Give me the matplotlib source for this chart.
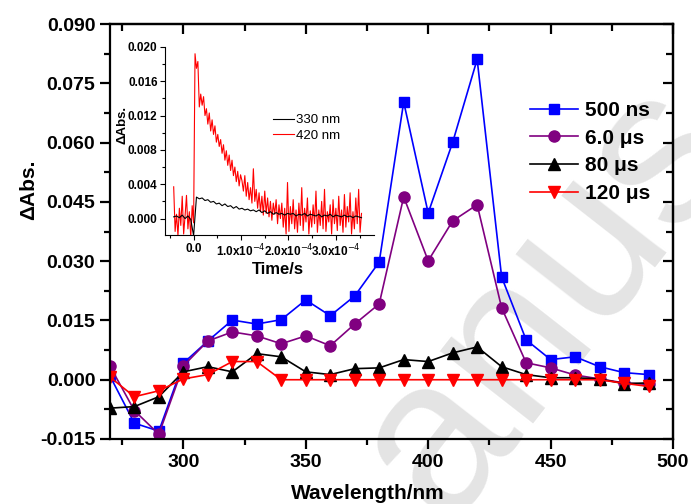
import matplotlib
matplotlib.use('Agg')
import matplotlib.pyplot as plt
import numpy as np
from matplotlib.ticker import MultipleLocator, FixedLocator, FixedFormatter

plt.rcParams['font.family'] = ['Liberation Sans', 'DejaVu Sans']

# main spectra
wavelength = [270, 280, 290, 300, 310, 320, 330, 340, 350, 360, 370, 380,
              390, 400, 410, 420, 430, 440, 450, 460, 470, 480, 490]
abs_500ns = [0.0010, -0.0110, -0.0130, 0.0042, 0.0098, 0.0151, 0.0141, 0.0152, 0.0202, 0.0162, 0.0212, 0.0298,
             0.0703, 0.0422, 0.0601, 0.0811, 0.0260, 0.0101, 0.0051, 0.0058, 0.0033, 0.0018, 0.0013]
abs_6us = [0.0035, -0.0078, -0.0138, 0.0035, 0.0098, 0.0121, 0.0111, 0.0091, 0.0111, 0.0086, 0.0141, 0.0192,
           0.0463, 0.0301, 0.0402, 0.0443, 0.0182, 0.0043, 0.0030, 0.0012, 0.0002, -0.0008, -0.0012]
abs_80us = [-0.0072, -0.0068, -0.0043, 0.0020, 0.0033, 0.0020, 0.0066, 0.0058, 0.0020, 0.0013, 0.0028, 0.0030,
            0.0051, 0.0046, 0.0068, 0.0083, 0.0033, 0.0013, 0.0005, 0.0005, 0.0002, -0.0010, -0.0008]
abs_120us = [0.0007, -0.0043, -0.0028, 0.0002, 0.0013, 0.0046, 0.0046, 0.0, 0.0, 0.0, 0.0, 0.0,
             0.0, 0.0, 0.0, 0.0, 0.0, 0.0, 0.0, 0.0, 0.0, -0.0009, -0.0017]
labels = ['500 ns', '6.0 μs', '80 μs', '120 μs']

# inset kinetic traces (values in 1e-3, time in 1e-4 s)
t0_red, dt_red = -0.42, 0.03
trace_420 = [3.7, -1.5, 0.5, -2.0, 1.2, -0.8, 2.6, -1.8, 0.3, 2.7, -1.2, 0.8, -2.2, 1.5, -0.5,
             19.2, 17.5, 18.3, 13.0, 14.5, 13.2, 14.2, 12.0, 12.8, 11.0, 12.3, 10.2, 11.5, 9.8, 10.8,
             8.9, 9.8, 8.4, 9.2, 7.6, 8.6, 6.8, 7.9, 6.2, 7.4, 5.6, 6.8, 5.0, 6.0, 4.3, 5.5, 3.8, 5.1,
             4.4, 3.2, 5.0, 2.6, 4.2, 2.2, 3.6, 1.8, 5.8, 2.0, 3.4, 1.2, 3.0, 0.8, 2.6, 0.4, 3.2, 0.6,
             2.4, 0.2, 2.0, -0.2, 1.8, 0.5, 2.2, -0.6, 1.6, 0.0, 1.8, -1.0, 1.2, -1.8, 4.2, -1.5, 1.4,
             -0.6, 2.2, -1.2, 1.0, -1.6, 1.8, -0.8, 3.6, -1.4, 1.2, -0.4, 2.4, -1.8, 0.9, -1.0, 1.6,
             -0.6, 3.2, -1.6, 1.0, -0.8, 2.0, -1.2, 3.4, -1.5, 0.8, -0.4, 1.6, -1.8, 2.2, -0.6, 1.2,
             -1.4, 2.6, -0.8, 1.0, -1.6, 2.8, -1.0, 1.4, -0.4, 3.0, -1.8, 0.8, -1.2, 2.4, -0.6, 3.4,
             -1.6, 0.6]
t0_blk, dt_blk = -0.42, 0.06
trace_330 = [0.2, 0.3, 0.1, 0.4, 0.0, 0.3, -0.1, -2.0,
             2.5, 2.3, 2.4, 2.1, 2.2, 1.9, 2.0, 1.7, 1.8, 1.5, 1.7, 1.4, 1.5, 1.2, 1.4, 1.1, 1.2, 1.0,
             1.1, 0.9, 1.0, 0.8, 1.0, 0.7, 0.9, 0.6, 0.8, 0.5, 0.7, 0.5, 0.6, 0.4, 0.6, 0.5, 0.6, 0.3,
             0.5, 0.4, 0.6, 0.3, 0.5, 0.4, 0.3, 0.5, 0.2, 0.4, 0.3, 0.5, 0.2, 0.4, 0.3, 0.2, 0.4, 0.2,
             0.3, 0.1, 0.3, 0.2, 0.1]

fig = plt.figure(figsize=(6.91, 5.04), dpi=100)
ax = fig.add_axes([0.159, 0.129, 0.815, 0.823])
ax.patch.set_alpha(0)

# faint watermark behind everything
fig.text(0.793, 0.405, 'anus', fontsize=160, color='#e4e4e4', rotation=52,
         ha='center', va='center', fontweight='normal', zorder=-5)

ax.plot(wavelength, abs_500ns, '-s', color='#0000ff', ms=7.5, lw=1.2, label=labels[0])
ax.plot(wavelength, abs_6us, '-o', color='#800080', ms=8, lw=1.2, label=labels[1])
ax.plot(wavelength, abs_80us, '-^', color='black', ms=8.5, lw=1.2, label=labels[2])
ax.plot(wavelength, abs_120us, '-v', color='#ff0000', ms=8.5, lw=1.2, label=labels[3])

ax.set_xlim(270, 500)
ax.set_ylim(-0.015, 0.090)
ax.xaxis.set_major_locator(MultipleLocator(50))
ax.xaxis.set_minor_locator(MultipleLocator(25))
ax.yaxis.set_major_locator(MultipleLocator(0.015))
ax.yaxis.set_minor_locator(MultipleLocator(0.0075))
ax.yaxis.set_major_formatter(plt.FormatStrFormatter('%.3f'))
for s in ax.spines.values():
    s.set_linewidth(1.6)
ax.tick_params(which='major', direction='out', length=7, width=1.6, labelsize=14)
ax.tick_params(which='minor', direction='out', length=4, width=1.6)
for lab in ax.get_xticklabels() + ax.get_yticklabels():
    lab.set_fontweight('bold')

top = ax.secondary_xaxis('top')
top.xaxis.set_major_locator(MultipleLocator(50))
top.xaxis.set_minor_locator(MultipleLocator(25))
top.tick_params(which='both', direction='in', labeltop=False, width=1.6)
top.tick_params(which='major', length=7)
top.tick_params(which='minor', length=5)
right = ax.secondary_yaxis('right')
right.yaxis.set_major_locator(MultipleLocator(0.015))
right.yaxis.set_minor_locator(MultipleLocator(0.0075))
right.tick_params(which='both', direction='in', labelright=False, width=1.6)
right.tick_params(which='major', length=7)
right.tick_params(which='minor', length=5)
top.spines['top'].set_linewidth(1.6)
right.spines['right'].set_linewidth(1.6)

ax.set_xlabel('Wavelength/nm', fontsize=15, fontweight='bold')
ax.xaxis.set_label_coords(0.458, -0.108)
ax.set_ylabel('ΔAbs.', fontsize=15, fontweight='bold')
ax.yaxis.set_label_coords(-0.128, 0.60)

ax.legend(loc='upper left', bbox_to_anchor=(0.732, 0.835), frameon=False,
          prop={'size': 15, 'weight': 'bold'},
          handlelength=2.3, handletextpad=0.3, labelspacing=0.42, borderaxespad=0)

# inset
ins = fig.add_axes([0.239, 0.534, 0.302, 0.373])
ins.patch.set_alpha(0)
t_red = (t0_red + dt_red * np.arange(len(trace_420))) * 1e-4
t_blk = (t0_blk + dt_blk * np.arange(len(trace_330))) * 1e-4
l330, = ins.plot(t_blk, np.array(trace_330) * 1e-3, color='black', lw=0.8, zorder=3)
l420, = ins.plot(t_red, np.array(trace_420) * 1e-3, color='#ff0000', lw=0.8, zorder=2)
ins.set_xlim(-0.6e-4, 3.8e-4)
ins.set_ylim(-0.0019, 0.020)
ins.spines['top'].set_visible(False)
ins.spines['right'].set_visible(False)
ins.xaxis.set_major_locator(FixedLocator([0, 1e-4, 2e-4, 3e-4]))
ins.xaxis.set_major_formatter(FixedFormatter(['0.0', '1.0x10$^{-4}$', '2.0x10$^{-4}$', '3.0x10$^{-4}$']))
ins.xaxis.set_minor_locator(MultipleLocator(0.5e-4))
ins.yaxis.set_major_locator(MultipleLocator(0.004))
ins.yaxis.set_minor_locator(MultipleLocator(0.002))
ins.yaxis.set_major_formatter(plt.FormatStrFormatter('%.3f'))
ins.tick_params(which='major', direction='out', length=3.5, width=0.8, labelsize=8.5, pad=2)
ins.tick_params(which='minor', direction='out', length=2, width=0.8)
for lab in ins.get_xticklabels() + ins.get_yticklabels():
    lab.set_fontweight('bold')
ins.set_xlabel('Time/s', fontsize=12, fontweight='bold')
ins.xaxis.set_label_coords(0.54, -0.144)
ins.set_ylabel('ΔAbs.', fontsize=9.5, fontweight='bold')
ins.yaxis.set_label_coords(-0.175, 0.585)
ins.legend([l330, l420], ['330 nm', '420 nm'], loc='upper left', bbox_to_anchor=(0.49, 0.67),
           frameon=False, prop={'size': 9.5}, handlelength=1.6,
           handletextpad=0.2, labelspacing=0.25, borderaxespad=0)

plt.savefig('out.png', dpi=100)
